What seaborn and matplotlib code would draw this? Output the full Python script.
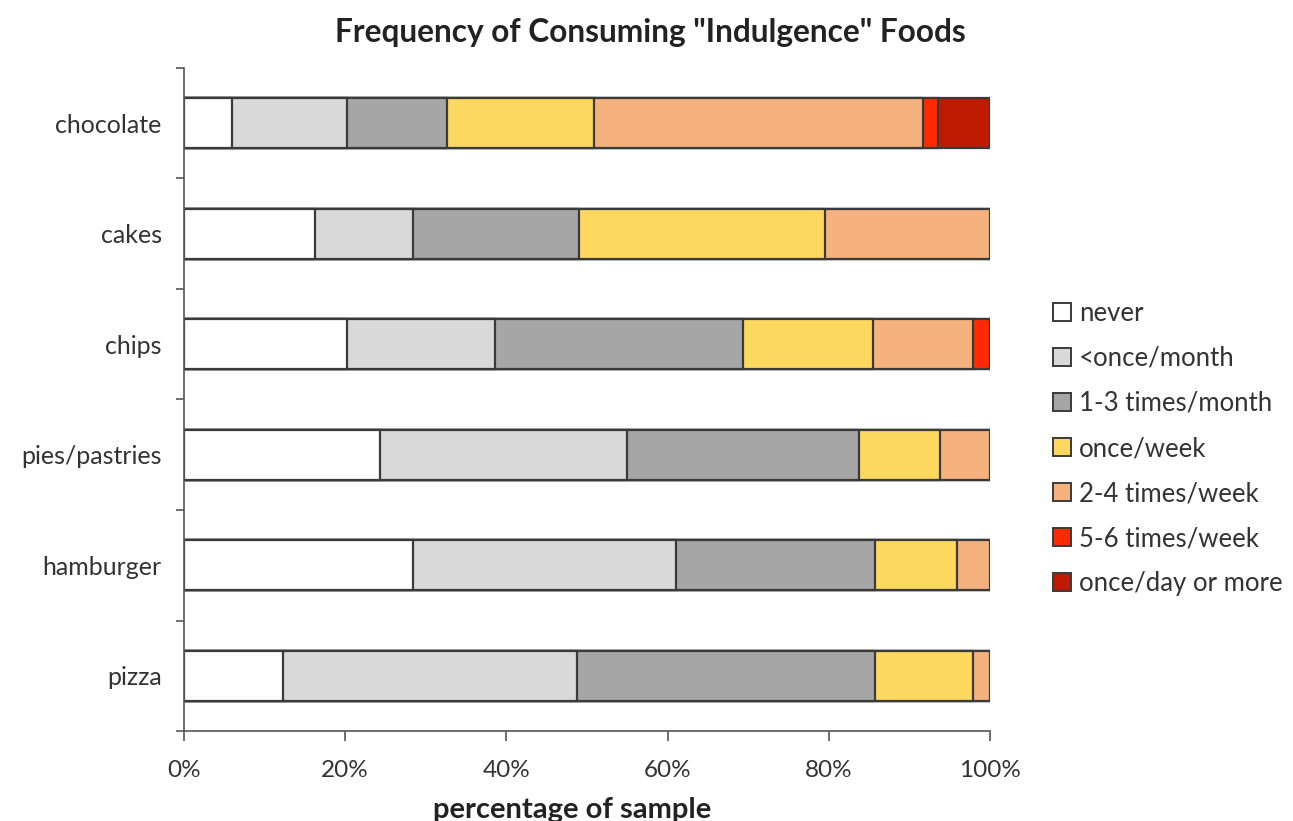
import numpy as np
import pandas as pd
import matplotlib
matplotlib.use("Agg")
import matplotlib.pyplot as plt
from matplotlib.patches import Patch
from matplotlib.ticker import FixedLocator, PercentFormatter
import seaborn as sns

foods = ["chocolate", "cakes", "chips", "pies/pastries", "hamburger", "pizza"]
frequencies = ["never", "<once/month", "1-3 times/month", "once/week",
               "2-4 times/week", "5-6 times/week", "once/day or more"]

never = [6.0, 16.2, 20.2, 24.3, 28.4, 12.3]
less_monthly = [14.2, 12.2, 18.4, 30.7, 32.7, 36.5]
monthly_1_3 = [12.4, 20.6, 30.8, 28.7, 24.6, 36.9]
weekly_once = [18.3, 30.5, 16.1, 10.1, 10.2, 12.2]
weekly_2_4 = [40.8, 20.5, 12.4, 6.2, 4.1, 2.1]
weekly_5_6 = [1.9, 0.0, 2.1, 0.0, 0.0, 0.0]
daily = [6.4, 0.0, 0.0, 0.0, 0.0, 0.0]

colors = ["#ffffff", "#d9d9d9", "#a6a6a6", "#fdd85e", "#f5b27f", "#ff2a00", "#be1a00"]

series = [never, less_monthly, monthly_1_3, weekly_once, weekly_2_4, weekly_5_6, daily]
df = pd.DataFrame(dict(zip(frequencies, series)), index=foods)
cum = df.cumsum(axis=1)
# normalise each row to 100 %
cum = cum.div(cum.iloc[:, -1], axis=0) * 100

sns.set_theme(style="white")
plt.rcParams["font.family"] = ["Lato", "DejaVu Sans"]

fig = plt.figure(figsize=(12.93, 8.21), dpi=100)
ax = fig.add_axes([0.1423, 0.1096, 0.7657 - 0.1423, 0.9172 - 0.1096])

edge = "#3a3a3a"
# draw cumulative layers back to front so each segment shows
for freq, col in reversed(list(zip(frequencies, colors))):
    data = pd.DataFrame({"food": foods, "value": cum[freq].values})
    sns.barplot(data=data, x="value", y="food", order=foods, color=col,
                orient="h", width=0.45, edgecolor=edge, linewidth=1.6,
                saturation=1, ax=ax)

ax.set_xlim(0, 100)
ax.set_ylim(len(foods) - 0.5, -0.5)
ax.xaxis.set_major_locator(FixedLocator([0, 20, 40, 60, 80, 100]))
ax.xaxis.set_major_formatter(PercentFormatter(decimals=0))
ax.set_xlabel("percentage of sample", fontsize=21, fontweight="bold",
              color="#222222")
ax.xaxis.set_label_coords(0.481, -0.100)
ax.set_ylabel("")

ax.tick_params(axis="x", which="major", direction="out", length=7, width=1.2,
               color="#555555", labelsize=17.5, labelcolor="#333333", pad=14, bottom=True)
ax.tick_params(axis="y", which="major", length=0, labelsize=18,
               labelcolor="#333333", pad=16)
ax.yaxis.set_minor_locator(FixedLocator(np.arange(-0.5, len(foods), 1.0)))
ax.tick_params(axis="y", which="minor", direction="out", length=6, width=1.2,
               color="#555555", left=True)

for s in ["top", "right"]:
    ax.spines[s].set_visible(False)
for s in ["left", "bottom"]:
    ax.spines[s].set_color("#555555")
    ax.spines[s].set_linewidth(1.2)
ax.grid(False)

fig.suptitle('Frequency of Consuming "Indulgence" Foods', x=0.503, y=0.978,
             fontsize=22.8, fontweight="bold", color="#222222", va="top")

handles = [Patch(facecolor=c, edgecolor=edge, linewidth=1.4) for c in colors]
leg = fig.legend(handles, frequencies, loc="center left",
                 bbox_to_anchor=(0.7966, 0.4537), frameon=False, fontsize=18.5,
                 handlelength=0.7, handleheight=0.7, handletextpad=0.3,
                 labelspacing=0.78)
for t in leg.get_texts():
    t.set_color("#333333")

fig.savefig("out.png", dpi=100)
